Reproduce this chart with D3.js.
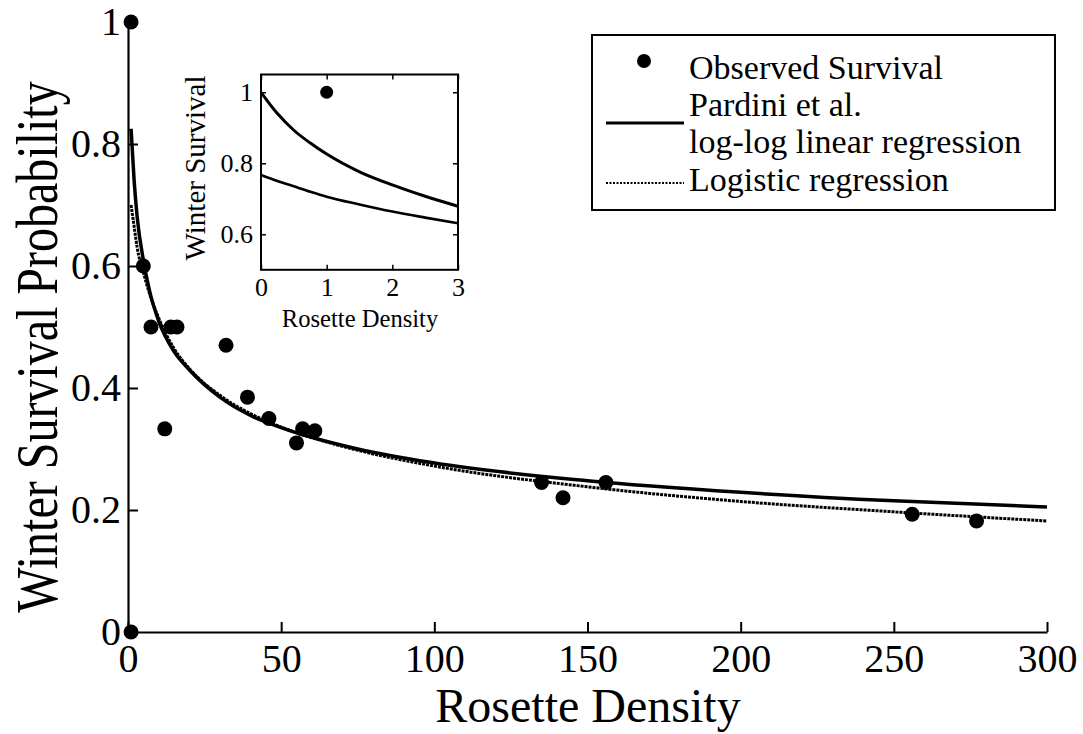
<!DOCTYPE html>
<html>
<head>
<meta charset="utf-8">
<script src="https://cdn.jsdelivr.net/npm/d3@7"></script>
<style>
  body { margin: 0; background: #fff; }
  svg text { font-family: "Liberation Serif", "Times New Roman", serif; fill: #000; }
</style>
</head>
<body>
<div id="wrapper"></div>
<script>
// observed survival
const obsDensity  = [1, 1, 5, 7.5, 12, 14, 16, 32, 39, 46, 55, 57, 61, 135, 142, 156, 256, 277];
const obsSurvival = [1, 0, 0.6, 0.5, 0.333, 0.5, 0.5, 0.47, 0.385, 0.35, 0.31, 0.333, 0.33, 0.245, 0.22, 0.245, 0.193, 0.182];

// fitted curves
const fitDensity   = [1, 2, 3, 5, 7, 10, 15, 20, 30, 40, 50, 75, 100, 150, 200, 250, 300];
const pardiniMain  = [0.825, 0.74, 0.68, 0.61, 0.56, 0.51, 0.46, 0.43, 0.385, 0.355, 0.335, 0.30, 0.277, 0.248, 0.229, 0.215, 0.205];
const logisticMain = [0.70, 0.665, 0.63, 0.59, 0.555, 0.515, 0.465, 0.432, 0.388, 0.358, 0.336, 0.298, 0.272, 0.238, 0.214, 0.197, 0.182];

// inset curves
const insetDensity  = [0, 0.25, 0.5, 0.75, 1, 1.5, 2, 2.5, 3];
const pardiniInset  = [1.0, 0.94, 0.893, 0.857, 0.826, 0.776, 0.739, 0.707, 0.679];
const logisticInset = [0.767, 0.75, 0.735, 0.72, 0.706, 0.684, 0.664, 0.647, 0.631];
const insetPointX = [1];
const insetPointY = [1];

const xTicks = [0, 50, 100, 150, 200, 250, 300];
const yTicks = [0, 0.2, 0.4, 0.6, 0.8, 1];
const insetXTicks = [0, 1, 2, 3];
const insetYTicks = [0.6, 0.8, 1];

const legendLabels = ["Observed Survival", "Pardini et al.", "log-log linear regression", "Logistic regression"];

const width = 1083, height = 734;

const svg = d3.select("#wrapper").append("svg")
  .attr("width", width)
  .attr("height", height);

const xScale = d3.scaleLinear().domain([0, 300]).range([128, 1047]);
const yScale = d3.scaleLinear().domain([0, 1]).range([632, 22]);

const line = (xs, ys, sx, sy) => d3.line()
  .x(i => sx(xs[i]))
  .y(i => sy(ys[i]))
  .curve(d3.curveMonotoneX)(d3.range(xs.length));

// main curves
svg.append("path")
  .attr("d", line(fitDensity, logisticMain, xScale, yScale))
  .attr("fill", "none").attr("stroke", "#000")
  .attr("stroke-width", 3).attr("stroke-dasharray", "3,1");

svg.append("path")
  .attr("d", line(fitDensity, pardiniMain, xScale, yScale))
  .attr("fill", "none").attr("stroke", "#000")
  .attr("stroke-width", 3.5);

// axes
const xAxis = svg.append("g")
  .attr("transform", `translate(0,${yScale(0)})`)
  .call(d3.axisBottom(xScale).tickValues(xTicks).tickSizeInner(-10).tickSizeOuter(0).tickPadding(12));

const yAxis = svg.append("g")
  .attr("transform", `translate(${xScale(0)},0)`)
  .call(d3.axisLeft(yScale).tickValues(yTicks).tickFormat(d => String(d)).tickSizeInner(-10).tickSizeOuter(0).tickPadding(7));

[xAxis, yAxis].forEach(a => {
  a.select(".domain").attr("stroke-width", 2.2);
  a.selectAll(".tick line").attr("stroke-width", 2);
  a.selectAll("text").attr("font-size", 40).attr("font-family", null);
});

// points
svg.append("g").selectAll("circle")
  .data(d3.range(obsDensity.length))
  .join("circle")
  .attr("cx", i => xScale(obsDensity[i]))
  .attr("cy", i => yScale(obsSurvival[i]))
  .attr("r", 7.5)
  .attr("fill", "#000");

// axis titles
svg.append("text")
  .attr("x", 588).attr("y", 722)
  .attr("text-anchor", "middle")
  .attr("font-size", 48)
  .text("Rosette Density");

svg.append("text")
  .attr("transform", "translate(57,347) rotate(-90) scale(1,1.25)")
  .attr("text-anchor", "middle")
  .attr("font-size", 48)
  .text("Winter Survival Probability");

// inset
const ix = d3.scaleLinear().domain([0, 3]).range([261, 458]);
const iy = d3.scaleLinear().domain([0.5, 1.05]).range([269.8, 74.5]);
const inset = svg.append("g");

inset.append("rect")
  .attr("x", ix(0)).attr("y", iy(1.05))
  .attr("width", ix(3) - ix(0)).attr("height", iy(0.5) - iy(1.05))
  .attr("fill", "#fff").attr("stroke", "#000").attr("stroke-width", 2);

const ib = inset.append("g").attr("transform", `translate(0,${iy(0.5)})`)
  .call(d3.axisBottom(ix).tickValues(insetXTicks).tickFormat(d => String(d)).tickSizeInner(-5).tickSizeOuter(0).tickPadding(8));
const it = inset.append("g").attr("transform", `translate(0,${iy(1.05)})`)
  .call(d3.axisTop(ix).tickValues(insetXTicks).tickFormat("").tickSizeInner(-5).tickSizeOuter(0));
const il = inset.append("g").attr("transform", `translate(${ix(0)},0)`)
  .call(d3.axisLeft(iy).tickValues(insetYTicks).tickFormat(d => String(d)).tickSizeInner(-5).tickSizeOuter(0).tickPadding(8));
const ir = inset.append("g").attr("transform", `translate(${ix(3)},0)`)
  .call(d3.axisRight(iy).tickValues(insetYTicks).tickFormat("").tickSizeInner(-5).tickSizeOuter(0));
[ib, it, il, ir].forEach(a => {
  a.select(".domain").remove();
  a.selectAll(".tick line").attr("stroke-width", 1.5);
  a.selectAll("text").attr("font-size", 26).attr("font-family", null);
});

inset.append("path")
  .attr("d", line(insetDensity, pardiniInset, ix, iy))
  .attr("fill", "none").attr("stroke", "#000").attr("stroke-width", 3);
inset.append("path")
  .attr("d", line(insetDensity, logisticInset, ix, iy))
  .attr("fill", "none").attr("stroke", "#000").attr("stroke-width", 2.6);

inset.selectAll("circle.pt")
  .data(insetPointX)
  .join("circle")
  .attr("cx", (d, i) => ix(d))
  .attr("cy", (d, i) => iy(insetPointY[i]))
  .attr("r", 6.5)
  .attr("fill", "#000");

inset.append("text")
  .attr("x", 360).attr("y", 327)
  .attr("text-anchor", "middle")
  .attr("font-size", 24.6)
  .text("Rosette Density");

inset.append("text")
  .attr("transform", "translate(205,168) rotate(-90)")
  .attr("text-anchor", "middle")
  .attr("font-size", 29)
  .text("Winter Survival");

// legend
const legend = svg.append("g");
legend.append("rect")
  .attr("x", 592).attr("y", 35)
  .attr("width", 463).attr("height", 175)
  .attr("fill", "#fff").attr("stroke", "#000").attr("stroke-width", 2);

legend.append("circle").attr("cx", 644).attr("cy", 61).attr("r", 7).attr("fill", "#000");
legend.append("line").attr("x1", 606).attr("x2", 684).attr("y1", 123).attr("y2", 123)
  .attr("stroke", "#000").attr("stroke-width", 3);
legend.append("line").attr("x1", 606).attr("x2", 684).attr("y1", 183).attr("y2", 183)
  .attr("stroke", "#000").attr("stroke-width", 2.2).attr("stroke-dasharray", "2,1.5");

const legendBaselines = [79, 116, 153, 191];
legend.selectAll("text.lbl")
  .data(legendLabels)
  .join("text")
  .attr("x", 689)
  .attr("y", (d, i) => legendBaselines[i])
  .attr("font-size", 34)
  .text(d => d);
</script>
</body>
</html>
